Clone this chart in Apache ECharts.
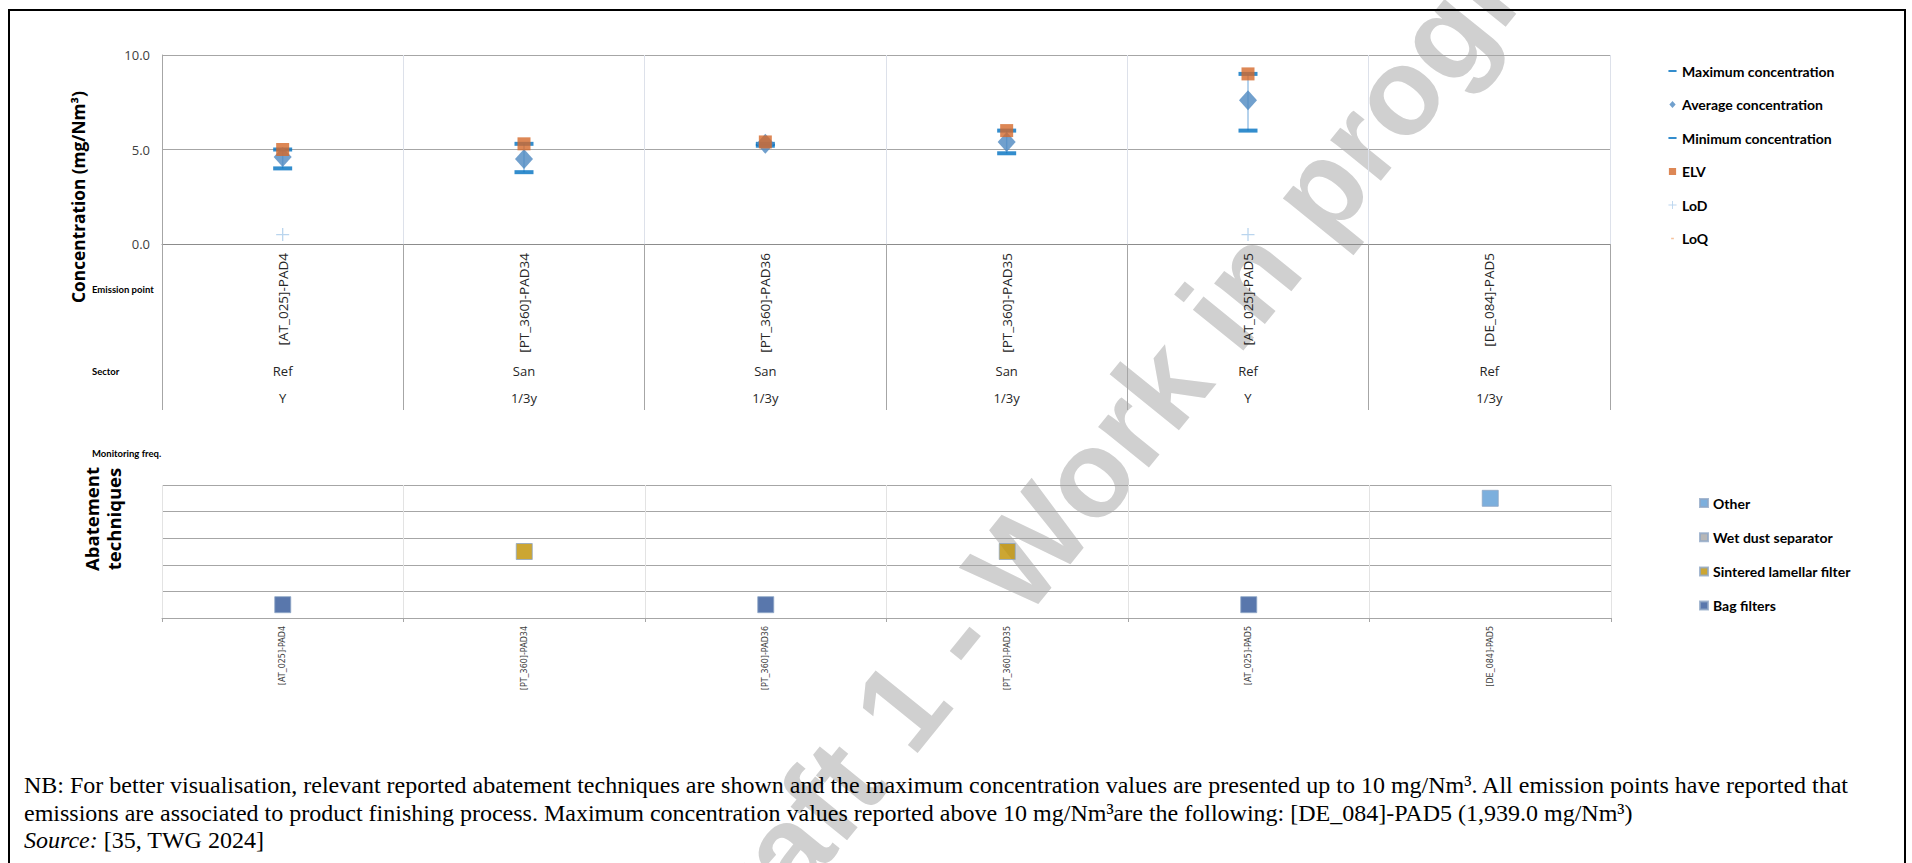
<!DOCTYPE html>
<html>
<head>
<meta charset="utf-8">
<script src="https://cdn.jsdelivr.net/npm/echarts@6/dist/echarts.min.js"></script>
<style>
html,body{margin:0;padding:0;background:#fff;}
#chart{width:1912px;height:863px;}
</style>
</head>
<body>
<div id="chart"></div>
<script>
// ---------- DATA ----------
const emissionPoints = ['[AT_025]-PAD4', '[PT_360]-PAD34', '[PT_360]-PAD36', '[PT_360]-PAD35', '[AT_025]-PAD5', '[DE_084]-PAD5'];
const sectors = ['Ref', 'San', 'San', 'San', 'Ref', 'Ref'];
const monitoringFreq = ['Y', '1/3y', '1/3y', '1/3y', 'Y', '1/3y'];

const maxConc = [5.0, 5.3, 5.3, 6.0, 9.0, null];
const avgConc = [4.6, 4.5, 5.3, 5.4, 7.6, null];
const minConc = [4.0, 3.8, 5.2, 4.8, 6.0, null];
const elv     = [5.0, 5.3, 5.4, 6.0, 9.0, null];
const lod     = [0.5, null, null, null, 0.5, null];
const loq     = [null, null, null, null, null, null];

const yTicks = [0, 5, 10];

const techniques = ['Other', 'Wet dust separator', 'Sintered lamellar filter', 'Bag filters'];
const techniqueLevel = [4.5, 3.5, 2.5, 0.5];
const techniqueColors = ['#5B9BD5', '#A5A5A5', '#BF9000', '#2F5597'];
const techniquePoints = [
  ['[DE_084]-PAD5'],
  [],
  ['[PT_360]-PAD34', '[PT_360]-PAD35'],
  ['[AT_025]-PAD4', '[PT_360]-PAD36', '[AT_025]-PAD5']
];

const noteLine1 = 'NB: For better visualisation, relevant reported abatement techniques are shown and the maximum concentration values are presented up to 10 mg/Nm\u00B3. All emission points have reported that';
const noteLine2 = 'emissions are associated to product finishing process. Maximum concentration values reported above 10 mg/Nm\u00B3are the following: [DE_084]-PAD5 (1,939.0 mg/Nm\u00B3)';

// ---------- CHART ----------
const chart = echarts.init(document.getElementById('chart'), null, {renderer: 'svg'});

const box = 'M0,0h0.01v0.01h-0.01zM9.99,9.99h0.01v0.01h-0.01z';
const icons = {
  dash: 'path://' + box + 'M0.5,3.8h9v2.4h-9z',
  diamond: 'path://' + box + 'M5,1L8.5,5L5,9L1.5,5z',
  square: 'path://' + box + 'M1,1h8v8h-8z',
  plus: 'path://' + box + 'M4.5,0.5h1v9h-1zM0.5,4.5h9v1h-9z',
  smallDash: 'path://' + box + 'M3.5,4.3h3v1.4h-3z'
};
const plusSymbol = 'path://M4.5,0h1v10h-1zM0,4.5h10v1h-10z';

const legendText = {fontFamily: 'Lato', fontWeight: 'bold', fontSize: 14, color: '#000', lineHeight: 14};

const series = [
  {
    name: 'range', type: 'custom', xAxisIndex: 0, yAxisIndex: 0, silent: true, z: 1,
    data: emissionPoints.map((p, i) => (minConc[i] != null && maxConc[i] != null) ? [i, minConc[i], maxConc[i]] : null).filter(d => d),
    renderItem: function (params, api) {
      const p1 = api.coord([api.value(0), api.value(1)]);
      const p2 = api.coord([api.value(0), api.value(2)]);
      return {type: 'line', shape: {x1: p1[0], y1: p1[1], x2: p2[0], y2: p2[1]}, style: {stroke: '#9DC3E6', lineWidth: 1.5}};
    }
  },
  {name: 'Maximum concentration', type: 'scatter', xAxisIndex: 0, yAxisIndex: 0, data: maxConc, symbol: 'rect', symbolSize: [19, 4], itemStyle: {color: '#0070C0'}, z: 2},
  {name: 'Minimum concentration', type: 'scatter', xAxisIndex: 0, yAxisIndex: 0, data: minConc, symbol: 'rect', symbolSize: [19, 4], itemStyle: {color: '#0070C0'}, z: 2},
  {name: 'Average concentration', type: 'scatter', xAxisIndex: 0, yAxisIndex: 0, data: avgConc, symbol: 'diamond', symbolSize: [18, 20], itemStyle: {color: '#4E88C0'}, z: 3},
  {name: 'ELV', type: 'scatter', xAxisIndex: 0, yAxisIndex: 0, data: elv, symbol: 'rect', symbolSize: 13, itemStyle: {color: '#D5692A'}, z: 4},
  {name: 'LoD', type: 'scatter', xAxisIndex: 0, yAxisIndex: 0, data: lod, symbol: plusSymbol, symbolSize: 13, itemStyle: {color: '#A9CBEA'}, z: 2},
  {name: 'LoQ', type: 'scatter', xAxisIndex: 0, yAxisIndex: 0, data: loq, symbol: 'rect', symbolSize: [6, 2], itemStyle: {color: '#F4B183'}, z: 2}
];
techniques.forEach((t, k) => {
  series.push({
    name: t, type: 'scatter', xAxisIndex: 2, yAxisIndex: 1,
    data: techniquePoints[k].map(p => [p, techniqueLevel[k]]),
    symbol: 'rect', symbolSize: 16,
    itemStyle: {color: techniqueColors[k], borderColor: '#8EA6C6', borderWidth: 1},
    z: 3
  });
});

const option = {
  animation: false,
  backgroundColor: '#fff',
  grid: [
    {left: 162, top: 55, width: 1448, height: 189, containLabel: false},
    {left: 162, top: 485, width: 1449, height: 133, containLabel: false}
  ],
  xAxis: [
    {
      gridIndex: 0, type: 'category', position: 'bottom', data: emissionPoints, boundaryGap: true,
      axisLine: {onZero: false, lineStyle: {color: '#8C8C8C', width: 1}},
      axisTick: {show: true, length: 166, interval: 0, lineStyle: {color: '#A6A6A6'}},
      axisLabel: {rotate: 90, margin: 9, interval: 0, fontSize: 13.5, fontFamily: 'Open Sans', color: '#262626'},
      splitLine: {show: true, interval: 0, lineStyle: {color: '#DDE1EA'}}
    },
    {
      gridIndex: 0, type: 'category', position: 'bottom', offset: 113.6, data: emissionPoints, boundaryGap: true,
      axisLine: {show: false, onZero: false}, axisTick: {show: false}, splitLine: {show: false},
      axisLabel: {
        interval: 0, margin: 0, fontSize: 13, fontFamily: 'Open Sans', color: '#262626', lineHeight: 26.8,
        formatter: (v, i) => sectors[i] + '\n' + monitoringFreq[i]
      }
    },
    {
      gridIndex: 1, type: 'category', position: 'bottom', data: emissionPoints, boundaryGap: true,
      axisLine: {onZero: false, lineStyle: {color: '#A6A6A6'}},
      axisTick: {show: true, length: 4, interval: 0, lineStyle: {color: '#A6A6A6'}},
      axisLabel: {rotate: 90, margin: 8, interval: 0, fontSize: 8, fontFamily: 'DejaVu Sans', color: '#404040'},
      splitLine: {show: true, interval: 0, lineStyle: {color: '#E3E3E3'}}
    }
  ],
  yAxis: [
    {
      gridIndex: 0, type: 'value', min: yTicks[0], max: yTicks[yTicks.length - 1], interval: yTicks[1] - yTicks[0],
      axisLine: {show: true, lineStyle: {color: '#A6A6A6'}}, axisTick: {show: false},
      axisLabel: {formatter: v => v.toFixed(1), margin: 12, fontSize: 13, fontFamily: 'Open Sans', color: '#404040'},
      splitLine: {lineStyle: {color: '#A6A6A6'}}
    },
    {
      gridIndex: 1, type: 'value', min: 0, max: 5, interval: 1,
      axisLine: {show: false}, axisTick: {show: false}, axisLabel: {show: false},
      splitLine: {lineStyle: {color: '#A6A6A6'}}
    }
  ],
  legend: [
    {
      orient: 'vertical', left: 1663, top: 59, itemWidth: 9, itemHeight: 10, itemGap: 19.5,
      selectedMode: false, textStyle: legendText,
      data: [
        {name: 'Maximum concentration', icon: icons.dash},
        {name: 'Average concentration', icon: icons.diamond},
        {name: 'Minimum concentration', icon: icons.dash},
        {name: 'ELV', icon: icons.square},
        {name: 'LoD', icon: icons.plus},
        {name: 'LoQ', icon: icons.smallDash}
      ]
    },
    {
      orient: 'vertical', left: 1694, top: 491, itemWidth: 8, itemHeight: 8, itemGap: 20.2,
      selectedMode: false, textStyle: legendText, icon: 'rect',
      data: techniques
    }
  ],
  graphic: [
    {
      type: 'text', z: -10, x: 1152, y: 396, rotation: 51 * Math.PI / 180, silent: true,
      style: {text: 'Draft 1 - Work in progress', x: 0, y: 0, align: 'center', verticalAlign: 'middle', textAlign: 'center', textVerticalAlign: 'middle',
        font: 'bold 123px "Liberation Sans"', fill: '#D0D0D0'}
    },
    {
      type: 'rect', z: 100, silent: true,
      shape: {x: 9, y: 10, width: 1896, height: 900},
      style: {fill: 'none', stroke: '#000', lineWidth: 2}
    },
    {
      type: 'text', x: 78, y: 197, rotation: Math.PI / 2,
      style: {text: 'Concentration (mg/Nm\u00B3)', x: 0, y: 0, align: 'center', verticalAlign: 'middle', textAlign: 'center', textVerticalAlign: 'middle',
        font: 'bold 17.3px "Open Sans"', fill: '#000'}
    },
    {
      type: 'text', x: 102, y: 519, rotation: Math.PI / 2,
      style: {text: 'Abatement\ntechniques', x: 0, y: 0, align: 'center', verticalAlign: 'middle', textAlign: 'center', textVerticalAlign: 'middle',
        font: 'bold 18.5px "Open Sans"', lineHeight: 22, fill: '#000'}
    },
    {type: 'text', x: 92, y: 289, style: {text: 'Emission point', verticalAlign: 'middle', textVerticalAlign: 'middle', font: 'bold 9.5px Lato', fill: '#000'}},
    {type: 'text', x: 92, y: 371, style: {text: 'Sector', verticalAlign: 'middle', textVerticalAlign: 'middle', font: 'bold 9.5px Lato', fill: '#000'}},
    {type: 'text', x: 92, y: 453, style: {text: 'Monitoring freq.', verticalAlign: 'middle', textVerticalAlign: 'middle', font: 'bold 9.5px Lato', fill: '#000'}},
    {type: 'text', x: 24, y: 785, style: {text: noteLine1, verticalAlign: 'middle', textVerticalAlign: 'middle', font: '24px "Liberation Serif"', fill: '#000'}},
    {type: 'text', x: 24, y: 813, style: {text: noteLine2, verticalAlign: 'middle', textVerticalAlign: 'middle', font: '24px "Liberation Serif"', fill: '#000'}},
    {
      type: 'text', x: 24, y: 840,
      style: {
        text: '{i|Source:} [35, TWG 2024]', verticalAlign: 'middle', textVerticalAlign: 'middle',
        font: '24px "Liberation Serif"', fill: '#000',
        rich: {i: {fontStyle: 'italic', fontFamily: 'Liberation Serif', fontSize: 24, fill: '#000'}}
      }
    }
  ],
  series: series
};
chart.setOption(option);
</script>
</body>
</html>
